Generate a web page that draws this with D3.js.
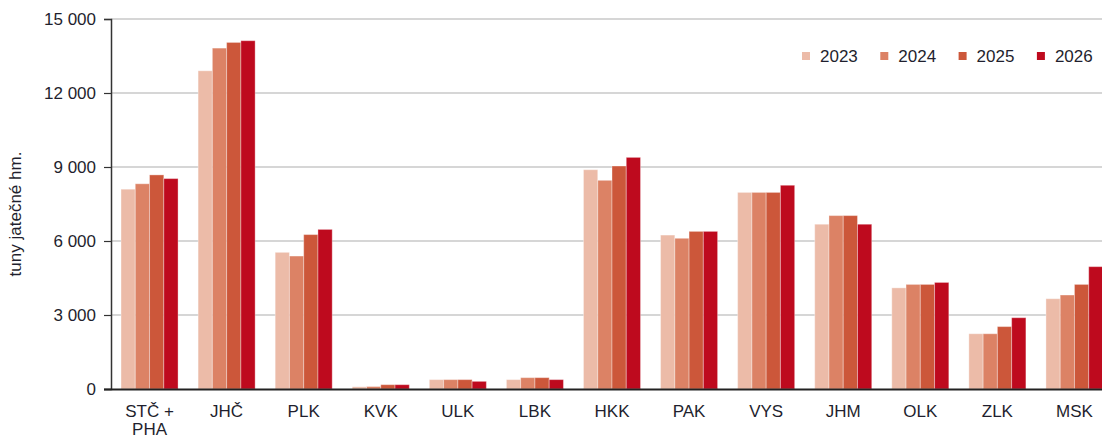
<!DOCTYPE html>
<html>
<head>
<meta charset="utf-8">
<script src="https://cdn.jsdelivr.net/npm/d3@7"></script>
<style>
  body { margin: 0; background: #fff; }
  text { font-family: "Liberation Sans", Arial, sans-serif; fill: #1f1f2e; }
</style>
</head>
<body>
<svg id="chart"></svg>
<script>
// regions and years
var regions = ["STČ + PHA", "JHČ", "PLK", "KVK", "ULK", "LBK", "HKK", "PAK", "VYS", "JHM", "OLK", "ZLK", "MSK"];
var years = ["2023", "2024", "2025", "2026"];
var colors = ["#ecbba8", "#dc8265", "#cc573a", "#be0a1e"];

// values in tonnes, one array per year
var v2023 = [8100, 12900, 5540, 90, 380, 380, 8890, 6240, 7970, 6680, 4100, 2240, 3660];
var v2024 = [8320, 13820, 5390, 100, 380, 460, 8460, 6110, 7970, 7030, 4240, 2240, 3810];
var v2025 = [8680, 14050, 6260, 175, 380, 460, 9040, 6390, 7970, 7030, 4240, 2530, 4240];
var v2026 = [8530, 14120, 6470, 175, 310, 380, 9390, 6390, 8260, 6680, 4320, 2890, 4960];
var yTicks = [0, 3000, 6000, 9000, 12000, 15000];

var series = [v2023, v2024, v2025, v2026];
var data = regions.map(function(r, i) {
  return { region: r, values: years.map(function(y, j) { return { year: y, value: series[j][i] }; }) };
});

var W = 1102, H = 439;
var svg = d3.select("#chart").attr("width", W).attr("height", H);

var x = d3.scaleBand().domain(regions).range([111, 1113]).paddingInner(0.26).paddingOuter(0.13);
var xi = d3.scaleBand().domain(years).range([0, x.bandwidth()]);
var y = d3.scaleLinear().domain([0, 15000]).range([389, 19]);
var color = d3.scaleOrdinal().domain(years).range(colors);

// gridlines
svg.append("g")
  .selectAll("line")
  .data(yTicks.slice(1))
  .enter()
  .append("line")
  .attr("x1", 111).attr("x2", W)
  .attr("y1", function(d) { return y(d); })
  .attr("y2", function(d) { return y(d); })
  .attr("stroke", "#c8c8c8")
  .attr("stroke-width", 1.5);

// bars
var groups = svg.append("g")
  .selectAll("g")
  .data(data)
  .enter()
  .append("g")
  .attr("transform", function(d) { return "translate(" + x(d.region) + ",0)"; });

groups.selectAll("rect")
  .data(function(d) { return d.values; })
  .enter()
  .append("rect")
  .attr("x", function(d) { return xi(d.year); })
  .attr("width", xi.bandwidth())
  .attr("y", function(d) { return y(d.value); })
  .attr("height", function(d) { return y(0) - y(d.value); })
  .attr("fill", function(d) { return color(d.year); })
  .attr("stroke", "#fff")
  .attr("stroke-opacity", 0.35)
  .attr("stroke-width", 1);

// y axis
var yAxis = d3.axisLeft(y)
  .tickValues(yTicks)
  .tickSize(7)
  .tickPadding(8)
  .tickFormat(function(d) { return d3.format(",")(d).replace(/,/g, " "); });

var gy = svg.append("g")
  .attr("transform", "translate(111,0)")
  .call(yAxis);
gy.select(".domain").attr("stroke", "#333").attr("stroke-width", 1.5);
gy.selectAll(".tick line").attr("stroke", "#333").attr("stroke-width", 1.2);
gy.selectAll(".tick text")
  .style("font-size", "17px")
  .style("font-family", "Liberation Sans, Arial, sans-serif")
  .attr("fill", "#1f1f2e");

// x axis
svg.append("line")
  .attr("x1", 104).attr("x2", W)
  .attr("y1", 389.5).attr("y2", 389.5)
  .attr("stroke", "#222")
  .attr("stroke-width", 1.8);

var xLabels = svg.append("g")
  .selectAll("text")
  .data(regions)
  .enter()
  .append("text")
  .attr("x", function(d) { return x(d) + x.bandwidth() / 2; })
  .attr("y", 417)
  .attr("text-anchor", "middle")
  .style("font-size", "17px");

xLabels.each(function(d) {
  var parts = d === "STČ + PHA" ? ["STČ +", "PHA"] : [d];
  var t = d3.select(this);
  parts.forEach(function(p, i) {
    t.append("tspan")
      .attr("x", x(d) + x.bandwidth() / 2)
      .attr("dy", i === 0 ? 0 : 18)
      .text(p);
  });
});

// y axis title
svg.append("text")
  .attr("transform", "translate(21,214) rotate(-90)")
  .attr("text-anchor", "middle")
  .style("font-size", "17px")
  .text("tuny jatečné hm.");

// legend
var legend = svg.append("g")
  .selectAll("g")
  .data(years)
  .enter()
  .append("g")
  .attr("transform", function(d, i) { return "translate(" + (802 + i * 78.3) + ",52)"; });

legend.append("rect")
  .attr("width", 8).attr("height", 8)
  .attr("fill", function(d) { return color(d); });

legend.append("text")
  .attr("x", 18)
  .attr("y", 10)
  .style("font-size", "17px")
  .text(function(d) { return d; });
</script>
</body>
</html>
